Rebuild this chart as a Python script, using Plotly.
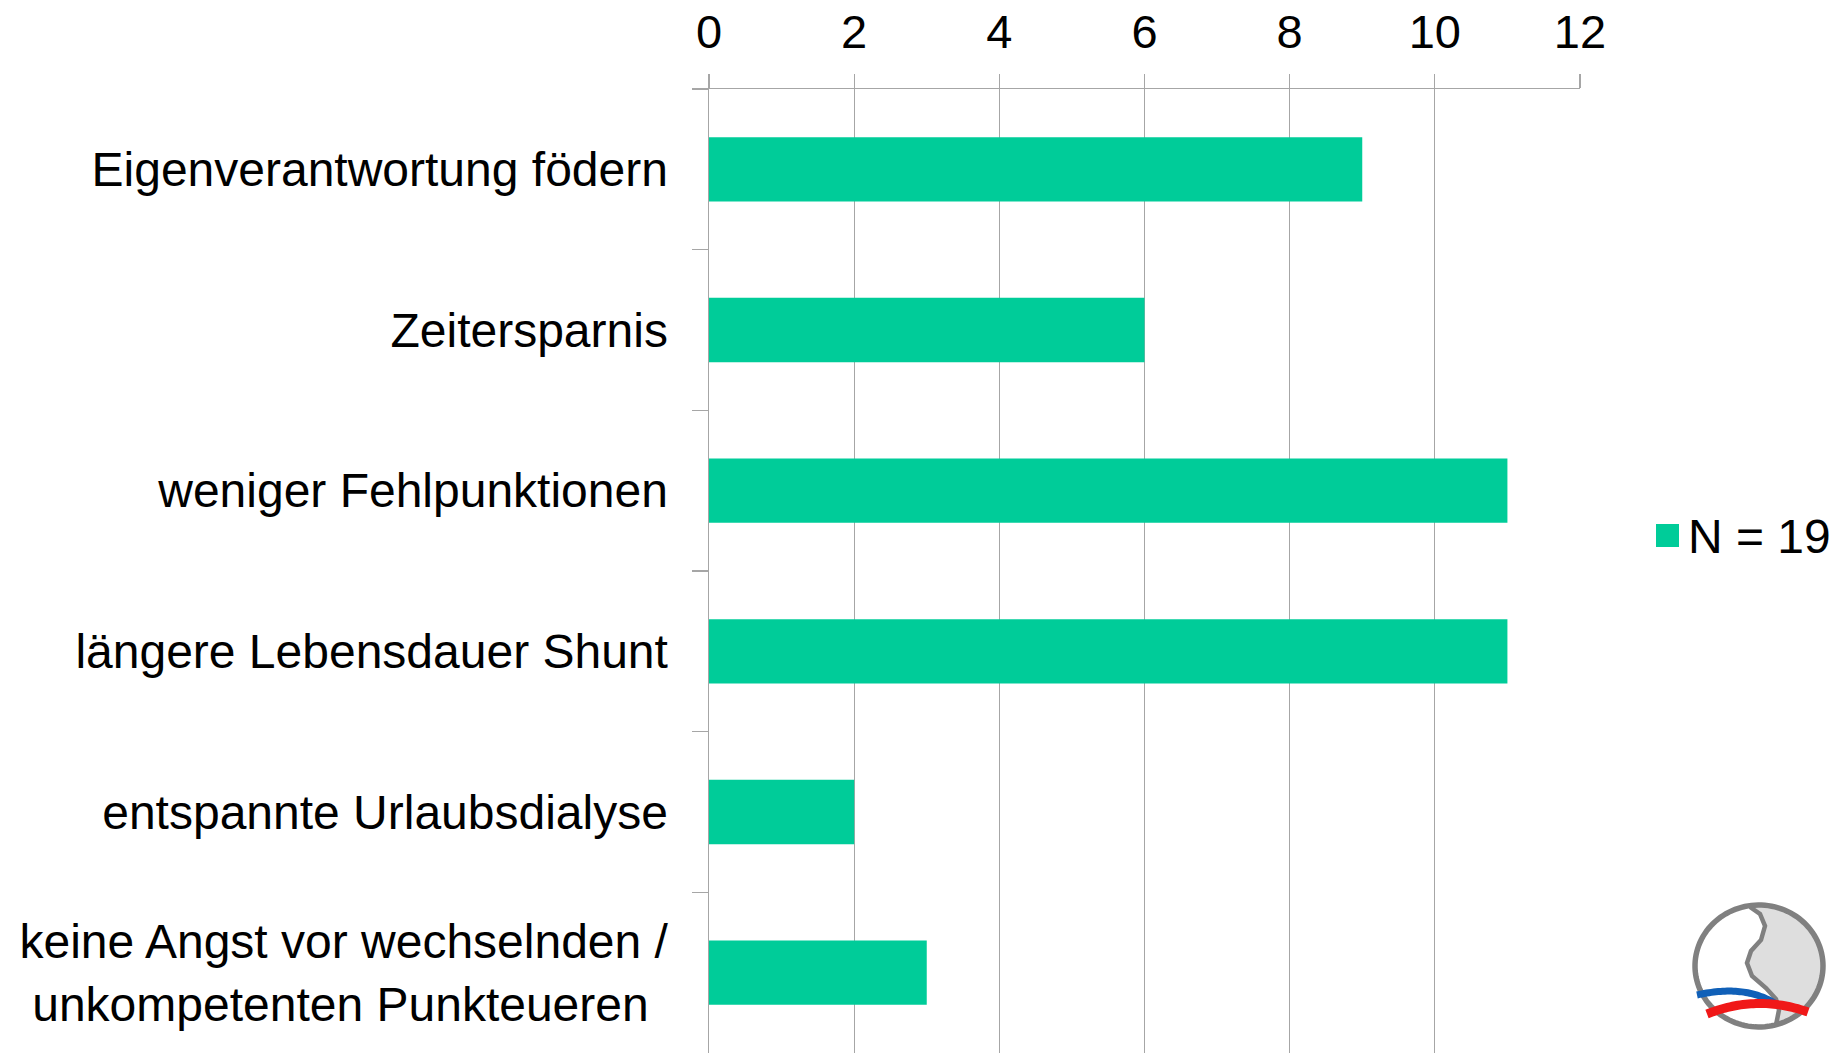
import numpy as np
import plotly.graph_objects as go

categories = [
    "Eigenverantwortung födern",
    "Zeitersparnis",
    "weniger Fehlpunktionen",
    "längere Lebensdauer Shunt",
    "entspannte Urlaubsdialyse",
    "keine Angst vor wechselnden /<br>unkompetenten Punkteueren\u2009\u2009",
]
values = [9, 6, 11, 11, 2, 3]
series_name = "N = 19"
x_ticks = [0, 2, 4, 6, 8, 10, 12]

W, H = 1848, 1053
ML, MR, MT, MB = 709, 268, 89, 0
PW, PH = W - ML - MR, H - MT - MB

BAR = "#00CC99"
GRID = "#A6A6A6"
FONT = "Liberation Sans, Arial, sans-serif"


def px(x):
    return (x - ML) / PW


def py(y):
    return (H - MB - y) / PH


def path(points, close=False):
    s = "M " + " L ".join(f"{px(x):.5f},{py(y):.5f}" for x, y in points)
    return s + (" Z" if close else "")


def quad(p0, c, p1, n=40):
    t = np.linspace(0, 1, n)[:, None]
    p0, c, p1 = map(np.array, (p0, c, p1))
    pts = (1 - t) ** 2 * p0 + 2 * (1 - t) * t * c + t ** 2 * p1
    return [tuple(p) for p in pts]


fig = go.Figure()
fig.add_trace(go.Bar(
    y=categories, x=values, orientation="h", name=series_name,
    marker=dict(color=BAR, line=dict(width=0)), showlegend=True,
))

# logo (decorative)
cx, cy, rx, ry = 1759, 966, 64, 61
scurve = [(1750, 907), (1760, 914), (1765, 926), (1761, 940), (1751, 951),
          (1747, 963), (1752, 976), (1766, 988), (1776, 999), (1779, 1010),
          (1776, 1025)]
a0 = np.arctan2((907 - cy) / ry, (1750 - cx) / rx)
a1 = np.arctan2((1025 - cy) / ry, (1776 - cx) / rx)
if a1 < a0:
    a1 += 2 * np.pi
angs = np.linspace(a0, a1, 80)
arc = [(cx + rx * np.cos(a), cy + ry * np.sin(a)) for a in angs]
gray_region = arc + scurve[::-1]
circle_pts = [(cx + rx * np.cos(a), cy + ry * np.sin(a)) for a in np.linspace(0, 2 * np.pi, 120)]

shapes = [
    dict(type="path", xref="paper", yref="paper", path=path(gray_region, True),
         fillcolor="#DEDEDE", line=dict(width=0), layer="above"),
    dict(type="path", xref="paper", yref="paper", path=path(scurve),
         line=dict(color="#808080", width=4.5), layer="above"),
    dict(type="path", xref="paper", yref="paper", path=path(circle_pts, True),
         line=dict(color="#808080", width=5.5), layer="above"),
    dict(type="path", xref="paper", yref="paper",
         path=path(quad((1697, 995), (1745, 984), (1776, 1004))),
         line=dict(color="#1060B8", width=7), layer="above"),
    dict(type="path", xref="paper", yref="paper",
         path=path(quad((1707, 1014), (1757, 994), (1808, 1012))),
         line=dict(color="#F01818", width=9), layer="above"),
    # enlarged legend swatch
    dict(type="rect", xref="paper", yref="paper",
         x0=px(1656), x1=px(1679), y0=py(547), y1=py(524),
         fillcolor=BAR, line=dict(width=0), layer="above"),
]

fig.update_layout(
    width=W, height=H,
    margin=dict(l=ML, r=MR, t=MT, b=MB, pad=0),
    paper_bgcolor="white", plot_bgcolor="white",
    font=dict(family=FONT, size=48, color="black"),
    bargap=0.6,
    shapes=shapes,
    legend=dict(x=px(1648), y=py(535), xanchor="left", yanchor="middle",
                bgcolor="rgba(0,0,0,0)", font=dict(size=48),
                itemwidth=30, tracegroupgap=0),
    xaxis=dict(
        side="top", range=[0, 12], tickvals=x_ticks,
        ticktext=[str(v) for v in x_ticks],
        showgrid=True, gridcolor=GRID, gridwidth=1.3,
        showline=True, linecolor=GRID, linewidth=1.5,
        ticks="outside", ticklen=14, tickcolor=GRID, tickwidth=1.3,
        zeroline=False, tickfont=dict(size=47), ticklabelstandoff=7,
        fixedrange=True,
    ),
    yaxis=dict(
        autorange="reversed", type="category",
        showline=True, linecolor=GRID, linewidth=1.5,
        ticks="outside", ticklen=16, tickcolor=GRID, tickwidth=1.3,
        tickson="boundaries", showgrid=False,
        tickfont=dict(size=48), ticklabelstandoff=30,
        fixedrange=True,
    ),
)

fig.write_html(
    "out.html",
    config={"displayModeBar": False, "staticPlot": True},
    post_script="document.body.style.margin='0';document.body.style.overflow='hidden';",
)
